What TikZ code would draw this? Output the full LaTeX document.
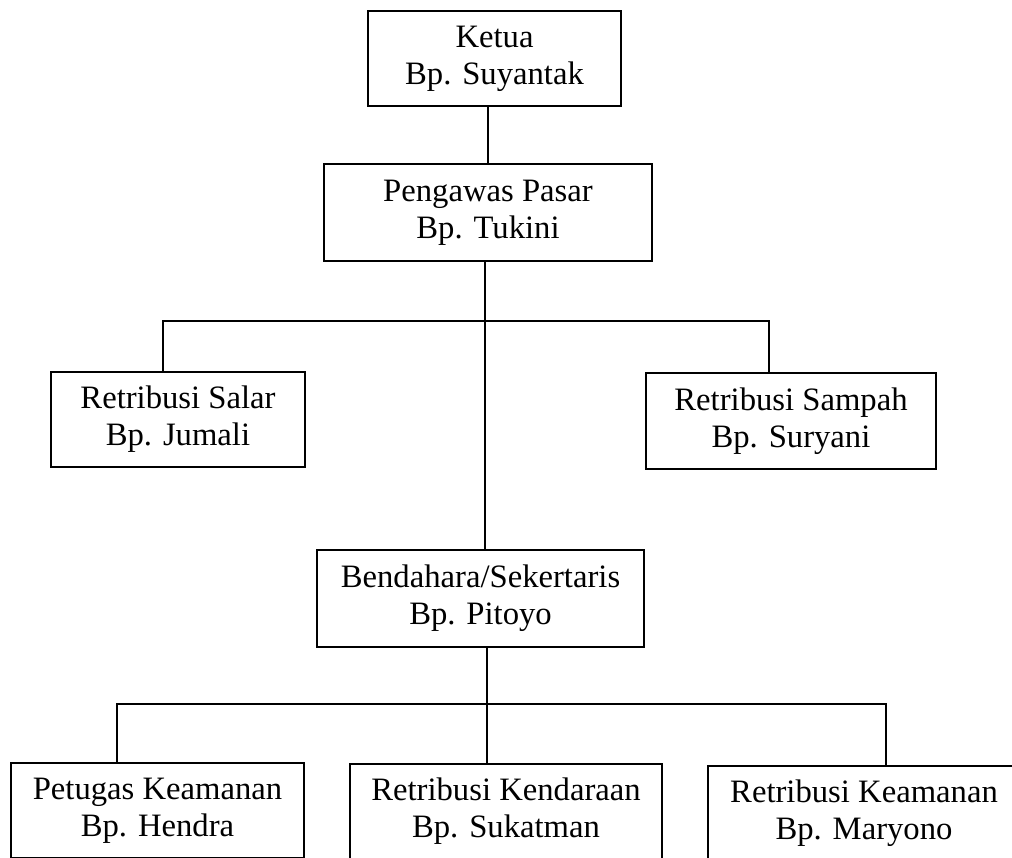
\documentclass[tikz,border=0pt]{standalone}
\usepackage{fontspec}
\setmainfont{Liberation Serif}
\newcommand\orgbox[7]{\node[box, minimum width={0.75pt*(#4-#2)}, minimum height={0.75pt*(#5-#3)}] (#1) at ({(#2+#4)/2},{(#3+#5)/2}) {#6\\#7};}
\begin{document}
\begin{tikzpicture}[x=0.75pt,y=-0.75pt, line width=1.2pt,
  box/.style={draw, line width=1.2pt, align=center, inner sep=0pt,
    font=\fontsize{24.5pt}{27.6pt}\selectfont}]
\useasboundingbox (0,0) rectangle (1012,857);
\clip (0,0) rectangle (1012,857);
\orgbox{ketua}{368}{11}{621}{106}{Ketua}{Bp. Suyantak}
\orgbox{pengawas}{324}{164}{652}{261}{Pengawas Pasar}{Bp. Tukini}
\orgbox{salar}{51}{372}{305}{467}{Retribusi Salar}{Bp. Jumali}
\orgbox{sampah}{646}{373}{936}{469}{Retribusi Sampah}{Bp. Suryani}
\orgbox{bendahara}{317}{550}{644}{647}{Bendahara/Sekertaris}{Bp. Pitoyo}
\orgbox{petugas}{11}{763}{304}{858}{Petugas Keamanan}{Bp. Hendra}
\orgbox{kendaraan}{350}{764}{662}{859}{Retribusi Kendaraan}{Bp. Sukatman}
\orgbox{keamanan}{708}{766}{1020}{861}{Retribusi Keamanan}{Bp. Maryono}
\coordinate (j1) at (485,321);
\coordinate (l1) at (163,321);
\coordinate (r1) at (769,321);
\coordinate (j2) at (487,704);
\coordinate (l2) at (117,704);
\coordinate (r2) at (886,704);
\draw (pengawas.north |- ketua.south) -- (pengawas.north);
\draw (pengawas.south -| j1) -- (bendahara.north -| j1);
\draw (salar.north -| l1) -- (l1) -- (r1) -- (sampah.north -| r1);
\draw (bendahara.south -| j2) -- (kendaraan.north -| j2);
\draw (petugas.north -| l2) -- (l2) -- (r2) -- (keamanan.north -| r2);
\end{tikzpicture}
\end{document}
